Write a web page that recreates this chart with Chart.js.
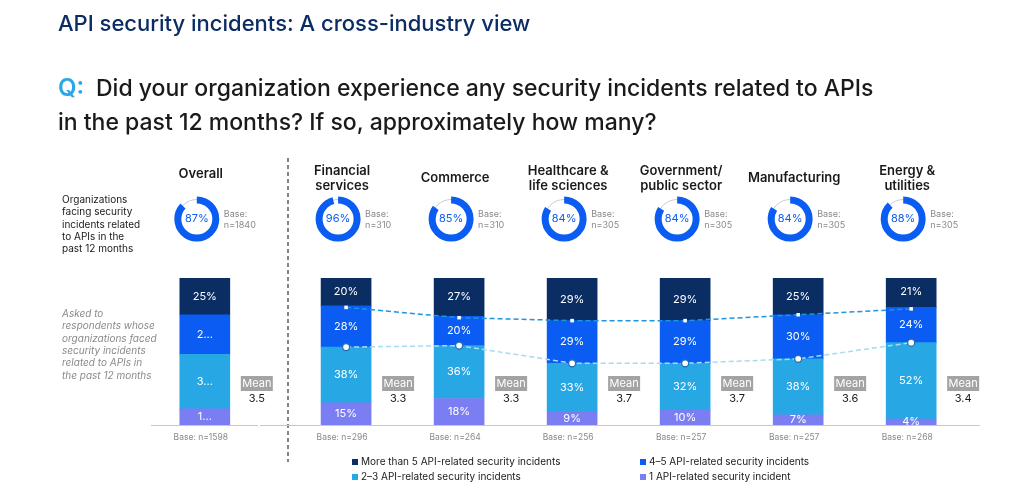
<!DOCTYPE html>
<html lang="en">
<head>
<meta charset="UTF-8">
<title>API security incidents: A cross-industry view</title>
<script src="https://cdn.jsdelivr.net/npm/chart.js"></script>
<style>
  html, body { margin: 0; padding: 0; background: #fff; }
  #wrap { width: 1024px; height: 492px; position: relative; }
</style>
</head>
<body>
<div id="wrap"><canvas id="apiChart"></canvas></div>
<script>
const groups = ['Overall', 'Financial\nservices', 'Commerce', 'Healthcare &\nlife sciences', 'Government/\npublic sector', 'Manufacturing', 'Energy &\nutilities'];
const xPos = [0, 1.25, 2.25, 3.25, 4.25, 5.25, 6.25];
const facing = [87, 96, 85, 84, 84, 84, 88];
const facingBase = [1840, 310, 310, 305, 305, 305, 305];
const barBase = [1598, 296, 264, 256, 257, 257, 268];
const means = ['3.5', '3.3', '3.3', '3.7', '3.7', '3.6', '3.4'];
const moreThan5 = [25, 20, 27, 29, 29, 25, 21];
const four5 = [27, 28, 20, 29, 29, 30, 24];
const two3 = [37, 38, 36, 33, 32, 38, 52];
const one = [11, 15, 18, 9, 10, 7, 4];
const overallLabels = ['25%', '2...', '3...', '1...'];

const seriesNames = ['1 API-related security incident', '2–3 API-related security incidents', '4–5 API-related security incidents', 'More than 5 API-related security incidents'];
const colors = ['#7b7ef3', '#27a7e4', '#0a5cf2', '#0a2d63'];
const series = [one, two3, four5, moreThan5];

const pts = arr => arr.map((v, i) => ({ x: xPos[i], y: v }));
const line1 = xPos.slice(1).map((x, i) => ({ x, y: 100 - moreThan5[i + 1] }));
const line2 = xPos.slice(1).map((x, i) => ({ x, y: one[i + 1] + two3[i + 1] }));

const font = '"Inter", "Liberation Sans", sans-serif';

const decor = {
  id: 'decor',
  afterDatasetsDraw(chart) {
    const c = chart.ctx, xs = chart.scales.x, ys = chart.scales.y;
    c.save();
    // titles
    c.textBaseline = 'alphabetic';
    c.textAlign = 'left';
    c.fillStyle = '#0b2d64';
    c.font = '500 22px ' + font;
    c.fillText('API security incidents: A cross-industry view', 58, 31);
    c.font = '600 24px ' + font;
    c.fillStyle = '#27a7e4';
    c.fillText('Q:', 58, 96);
    c.fillStyle = '#1a1a1a';
    c.font = '500 23px ' + font;
    c.fillText('Did your organization experience any security incidents related to APIs', 96, 96);
    c.fillText('in the past 12 months? If so, approximately how many?', 58, 130);

    // left notes
    c.font = '10px ' + font;
    c.fillStyle = '#1a1a1a';
    ['Organizations', 'facing security', 'incidents related', 'to APIs in the', 'past 12 months'].forEach((t, i) => c.fillText(t, 62, 203 + i * 12.3));
    c.font = 'italic 10px ' + font;
    c.fillStyle = '#8a8a8a';
    ['Asked to', 'respondents whose', 'organizations faced', 'security incidents', 'related to APIs in', 'the past 12 months'].forEach((t, i) => c.fillText(t, 62, 317 + i * 12.3));

    // separator
    c.strokeStyle = '#333';
    c.setLineDash([4, 3]);
    c.lineWidth = 1.2;
    c.beginPath(); c.moveTo(288, 158); c.lineTo(288, 462); c.stroke();
    c.setLineDash([]);

    // baselines
    c.strokeStyle = '#c8c8c8';
    c.lineWidth = 1;
    const by = ys.getPixelForValue(0);
    c.beginPath(); c.moveTo(151, by + 0.5); c.lineTo(258, by + 0.5); c.moveTo(260, by + 0.5); c.lineTo(980, by + 0.5); c.stroke();

    xPos.forEach((xv, i) => {
      const cx = xs.getPixelForValue(xv);
      // header
      c.fillStyle = '#1a1a1a';
      c.font = '600 13px ' + font;
      c.textAlign = 'center';
      const lines = groups[i].split('\n');
      lines.forEach((t, k) => c.fillText(t, cx - 4, (lines.length === 1 ? 178 : 171) + k * 15));
      // donut
      const dx = cx - 8, dy = 219, r = 19;
      c.strokeStyle = '#c9ccd4'; c.lineWidth = 1;
      c.beginPath(); c.arc(dx, dy, r + 0.5, 0, Math.PI * 2); c.stroke();
      c.strokeStyle = '#0a5cf2'; c.lineWidth = 7;
      c.beginPath(); c.arc(dx, dy, r, -Math.PI / 2, -Math.PI / 2 + Math.PI * 2 * facing[i] / 100); c.stroke();
      c.fillStyle = '#0a5cf2';
      c.font = '11px ' + font;
      c.textBaseline = 'middle';
      c.fillText(facing[i] + '%', dx, dy);
      c.fillStyle = '#8a8a8a';
      c.font = '9px ' + font;
      c.textAlign = 'left';
      c.fillText('Base:', dx + 27, dy - 5);
      c.fillText('n=' + facingBase[i], dx + 27, dy + 6);
      // segment labels
      c.textAlign = 'center';
      c.fillStyle = '#fff';
      c.font = '11px ' + font;
      let acc = 0;
      series.forEach((s, k) => {
        const mid = ys.getPixelForValue(acc + s[i] / 2);
        acc += s[i];
        c.fillText(i === 0 ? overallLabels[3 - k] : s[i] + '%', cx, mid);
      });
      // mean box
      const mx = cx + 52;
      c.fillStyle = '#a3a3a3';
      c.fillRect(mx - 16, 376, 32, 15);
      c.fillStyle = '#fff';
      c.fillText('Mean', mx, 384);
      c.fillStyle = '#1a1a1a';
      c.fillText(means[i], mx, 399);
      // base
      c.fillStyle = '#8a8a8a';
      c.font = '8.5px ' + font;
      c.fillText('Base: n=' + barBase[i], cx - 4, 437);
    });

    // legend
    c.textAlign = 'left';
    c.font = '10px ' + font;
    const leg = [[3, 352, 462], [2, 640, 462], [1, 352, 477], [0, 640, 477]];
    leg.forEach(([k, x, y]) => {
      c.fillStyle = colors[k];
      c.fillRect(x, y - 3, 6, 6);
      c.fillStyle = '#1a1a1a';
      c.fillText(seriesNames[k], x + 9, y);
    });
    c.restore();
  }
};

new Chart(document.getElementById('apiChart'), {
  data: {
    datasets: [
      { type: 'line', data: line1, stack: 'l1', order: 0, borderColor: '#1f95dc', borderWidth: 1.5, borderDash: [5, 3],
        pointStyle: 'rect', pointRadius: 2.5, pointBackgroundColor: '#fff', pointBorderColor: '#fff', pointBorderWidth: 0 },
      { type: 'line', data: line2, stack: 'l2', order: 0, borderColor: '#a7dbf0', borderWidth: 1.5, borderDash: [5, 3],
        pointRadius: 3.5, pointBackgroundColor: '#fff', pointBorderColor: '#1f6fb0', pointBorderWidth: 1.3 },
      ...series.map((s, k) => ({ type: 'bar', label: seriesNames[k], data: pts(s), stack: 'bars', order: 1,
        backgroundColor: colors[k], barThickness: 50 }))
    ]
  },
  options: {
    responsive: true,
    maintainAspectRatio: false,
    animation: false,
    layout: { padding: { left: 137, right: 45, top: 278, bottom: 67 } },
    scales: {
      x: { type: 'linear', min: -0.6, max: 6.85, offset: false, display: false },
      y: { stacked: true, min: 0, max: 100, display: false }
    },
    plugins: { legend: { display: false }, tooltip: { enabled: false } }
  },
  plugins: [decor]
});
</script>
</body>
</html>
